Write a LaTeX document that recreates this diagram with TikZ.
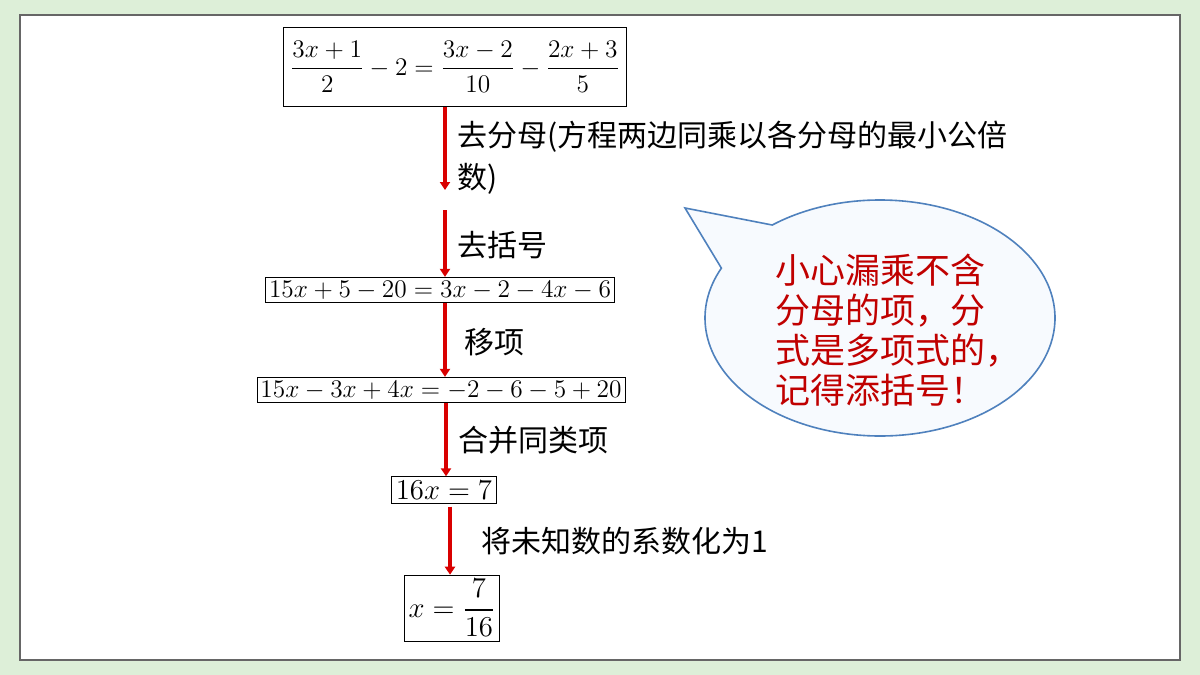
\documentclass[tikz,border=0pt]{standalone}
\usepackage{fontspec}
\usepackage{amsmath}
\setmainfont{Liberation Serif}
\newfontfamily\cjk{Noto Sans CJK SC}
\usetikzlibrary{arrows.meta, positioning, calc}
\definecolor{pagegreen}{HTML}{DDEFD8}
\definecolor{tipred}{HTML}{C00000}
\definecolor{bubbleline}{HTML}{4F81BD}
\definecolor{bubblefill}{HTML}{F7FAFE}

\begin{document}
\begin{tikzpicture}[
  x=0.5pt, y=0.5pt,
  eqbox/.style = {draw, thin, inner sep=2pt, font=\fontsize{13.5}{16}\selectfont},
  eqsmall/.style = {scale=0.88, transform shape},
  note/.style = {anchor=west, align=left, font=\cjk\fontsize{15}{21}\selectfont},
  arrow/.style = {draw=red!85!black, line width=2pt, -{Triangle[width=5pt,length=4pt]}}
]

  % page
  \fill[pagegreen] (0,0) rectangle (1200,-675);
  \draw[fill=white, draw=black!60, line width=1pt] (20,-15) rectangle (1180,-660);
  \useasboundingbox (0,0) rectangle (1200,-675);

  % equations
  \node[eqbox, eqsmall, minimum width=195pt, minimum height=45pt] (eqa) at (455,-67)
    {$\dfrac{3x+1}{2}-2=\dfrac{3x-2}{10}-\dfrac{2x+3}{5}$\hspace{16pt}};
  \node[eqbox, eqsmall] (eqb) at (440,-290) {$15x+5-20=3x-2-4x-6$};
  \node[eqbox, eqsmall] (eqc) at (441,-390) {$15x-3x+4x=-2-6-5+20$};
  \node[eqbox] (eqd) at (444,-490) {$16x=7$};
  \node[eqbox] (eqe) at (452,-608) {$x=\dfrac{7}{16}$};

  \coordinate (s1) at (445,-190);
  \coordinate (s2) at (445,-210);

  % steps
  \draw[arrow] (eqa.south -| s1) -- (s1);
  \node[note] (ta) at (450,-158) {去分母(方程两边同乘以各分母的最小公倍\\数)};
  \draw[arrow] (s2) -- (s2 |- eqb.north);
  \node[note] (tb) at (450,-245) {去括号};
  \draw[arrow] ($(eqb.south)+(5,0)$) -- ($(eqc.north)+(4,0)$);
  \node[note] (tc) at (457,-342) {移项};
  \draw[arrow] ($(eqc.south)+(5,0)$) -- ($(eqd.north)+(2,0)$);
  \node[note] (td) at (451,-440) {合并同类项};
  \draw[arrow] ($(eqd.south)+(6,-3)$) -- ($(eqe.north)+(-2,0)$);
  \node[note] (te) at (474,-541) {将未知数的系数化为1};

  % callout
  \coordinate (tip) at (685,-208);
  \draw[bubbleline, fill=bubblefill, line width=0.8pt]
    (tip) -- ($(880,-318)+(128:87.5pt and 59pt)$)
    arc[start angle=128, end angle=-205, x radius=87.5pt, y radius=59pt] -- cycle;
  \node[note, text=tipred, font=\cjk\fontsize{17.5}{20}\selectfont] (warn) at (768,-330)
    {小心漏乘不含\\分母的项，分\\式是多项式的，\\记得添括号！};

\end{tikzpicture}
\end{document}
